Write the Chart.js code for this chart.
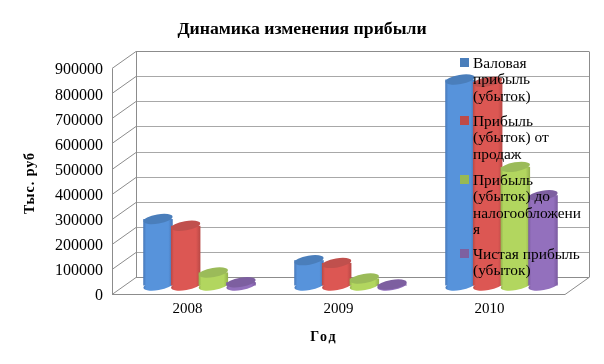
<!DOCTYPE html>
<html lang="ru">
<head>
<meta charset="utf-8">
<title>Динамика изменения прибыли</title>
<script src="https://cdn.jsdelivr.net/npm/chart.js@4"></script>
<style>
  html, body { margin: 0; padding: 0; background: #fff; }
  canvas { display: block; }
</style>
</head>
<body>
<canvas id="chart" width="604" height="364"></canvas>
<script>
const years = ["2008", "2009", "2010"];
const grossProfit = [265000, 101000, 821000];
const salesProfit = [238000, 90000, 812000];
const preTaxProfit = [52000, 28000, 473000];
const netProfit = [13000, 4000, 360000];

const seriesNames = [
  "Валовая прибыль (убыток)",
  "Прибыль (убыток) от продаж",
  "Прибыль (убыток) до налогообложения",
  "Чистая прибыль (убыток)",
];
const legendLines = [
  ["Валовая", "прибыль", "(убыток)"],
  ["Прибыль", "(убыток) от", "продаж"],
  ["Прибыль", "(убыток) до", "налогообложени", "я"],
  ["Чистая прибыль", "(убыток)"],
];
const legendTops = [64, 122, 181, 255];

const chartTitle = "Динамика изменения прибыли";
const xTitle = "Год";
const yTitle = "Тыс. руб";

// body / edge / top colours of each cylinder
const bodyColors = ["#5793db", "#dc5753", "#b2d65f", "#9370bd"];
const edgeColors = ["#4677b8", "#b84845", "#93b14d", "#7a5a9f"];
const topColors = ["#4a7ebb", "#c0504d", "#9bbb59", "#7d5fa0"];
const markerColors = ["#4a7ebb", "#be4b48", "#98b954", "#7d60a0"];

const SERIF = '"Liberation Serif", "Times New Roman", serif';
const DEPTH_X = 12;
const DEPTH_Y = 17;

function drawCylinder(ctx, bar, i) {
  const dx = DEPTH_X;
  const dy = -DEPTH_Y / 2;
  const w = 29.5;
  const left = bar.x + dx - w / 2;
  const right = left + w;
  const top = bar.y + dy;
  const base = bar.base + dy;
  const tilt = -0.17;
  const ry = 4.6;

  const grad = ctx.createLinearGradient(left, 0, right, 0);
  grad.addColorStop(0, edgeColors[i]);
  grad.addColorStop(0.1, bodyColors[i]);
  grad.addColorStop(0.85, bodyColors[i]);
  grad.addColorStop(1, edgeColors[i]);

  ctx.fillStyle = grad;
  ctx.beginPath();
  ctx.ellipse((left + right) / 2, base, w / 2, ry, tilt, 0, Math.PI * 2);
  ctx.fill();
  ctx.fillRect(left, top, w, base - top);

  ctx.fillStyle = topColors[i];
  ctx.beginPath();
  ctx.ellipse((left + right) / 2, top, w / 2, ry, tilt, 0, Math.PI * 2);
  ctx.fill();
}

// walls, floor and gridlines of the 3D box, taken from the scales
const framePlugin = {
  id: "frame",
  beforeDatasetsDraw(chart) {
    const ctx = chart.ctx;
    const { left, right, bottom } = chart.chartArea;
    const yScale = chart.scales.y;
    const line = (x1, y1, x2, y2, color) => {
      ctx.strokeStyle = color;
      ctx.beginPath();
      ctx.moveTo(x1, y1);
      ctx.lineTo(x2, y2);
      ctx.stroke();
    };

    ctx.save();
    ctx.lineWidth = 1;
    yScale.ticks.forEach((tick, i) => {
      const y = Math.round(yScale.getPixelForValue(tick.value)) + 0.5;
      const isEdge = i === 0 || i === yScale.ticks.length - 1;
      line(left + DEPTH_X * 2, y - DEPTH_Y, right + DEPTH_X * 2, y - DEPTH_Y, isEdge ? "#8c8c8c" : "#a8a8a8");
      line(left, y, left + DEPTH_X * 2, y - DEPTH_Y, "#8c8c8c");
    });
    const top = Math.round(yScale.getPixelForValue(900000)) + 0.5;
    const floor = Math.round(bottom) + 0.5;
    line(left + 0.5, top, left + 0.5, floor, "#8c8c8c");
    line(left + DEPTH_X * 2 + 0.5, top - DEPTH_Y, left + DEPTH_X * 2 + 0.5, floor - DEPTH_Y, "#8c8c8c");
    line(right + DEPTH_X * 2 + 0.5, top - DEPTH_Y, right + DEPTH_X * 2 + 0.5, floor - DEPTH_Y, "#8c8c8c");
    line(left, floor, right, floor, "#8c8c8c");
    line(right, floor, right + DEPTH_X * 2, floor - DEPTH_Y, "#8c8c8c");
    ctx.restore();

    chart.data.datasets.forEach((ds, i) => {
      chart.getDatasetMeta(i).data.forEach(bar => drawCylinder(ctx, bar, i));
    });
  },
  beforeDatasetDraw() {
    return false;
  },
  afterDraw(chart) {
    const ctx = chart.ctx;
    ctx.save();
    ctx.fillStyle = "#000";

    // legend sits on top of the bars, like in the original
    ctx.font = "15.4px " + SERIF;
    ctx.textAlign = "left";
    ctx.textBaseline = "middle";
    legendLines.forEach((lines, i) => {
      ctx.fillStyle = markerColors[i];
      ctx.fillRect(460, legendTops[i] - 6, 9, 9);
      ctx.fillStyle = "#000";
      lines.forEach((text, j) => ctx.fillText(text, 473, legendTops[i] + j * 16.4));
    });

    ctx.font = "bold 14px " + SERIF;
    ctx.letterSpacing = "2px";
    ctx.textAlign = "center";
    ctx.fillText(xTitle, 324, 337);
    ctx.letterSpacing = "1px";
    ctx.translate(30, 183);
    ctx.rotate(-Math.PI / 2);
    ctx.fillText(yTitle, 0, 0);
    ctx.restore();
  },
};

const allSeries = [grossProfit, salesProfit, preTaxProfit, netProfit];

new Chart(document.getElementById("chart"), {
  type: "bar",
  data: {
    labels: years,
    datasets: allSeries.map((values, i) => ({
      label: seriesNames[i],
      data: values,
      backgroundColor: bodyColors[i],
    })),
  },
  options: {
    responsive: false,
    animation: false,
    // equal side padding keeps the title centred on the page
    layout: { padding: { left: 39, right: 39 } },
    categoryPercentage: 0.733,
    barPercentage: 1,
    plugins: {
      legend: { display: false },
      tooltip: { enabled: false },
      title: {
        display: true,
        text: chartTitle,
        color: "#000",
        font: { family: SERIF, size: 17.7, weight: "bold" },
        padding: { top: 19, bottom: 28 },
      },
    },
    scales: {
      x: {
        afterFit(scale) { scale.height = 70; },
        grid: { display: false, drawTicks: false },
        border: { display: false },
        ticks: { color: "#000", padding: 6, font: { family: SERIF, size: 15 } },
      },
      y: {
        min: 0,
        max: 900000,
        afterFit(scale) { scale.width = 73; },
        grid: { display: false, drawTicks: false },
        border: { display: false },
        ticks: {
          stepSize: 100000,
          color: "#000",
          padding: 9,
          // blank first line with a tight line height nudges labels 2px down
          font: { family: SERIF, size: 16, lineHeight: 0.25 },
          callback: value => ["", String(value)],
        },
      },
    },
  },
  plugins: [framePlugin],
});
</script>
</body>
</html>
